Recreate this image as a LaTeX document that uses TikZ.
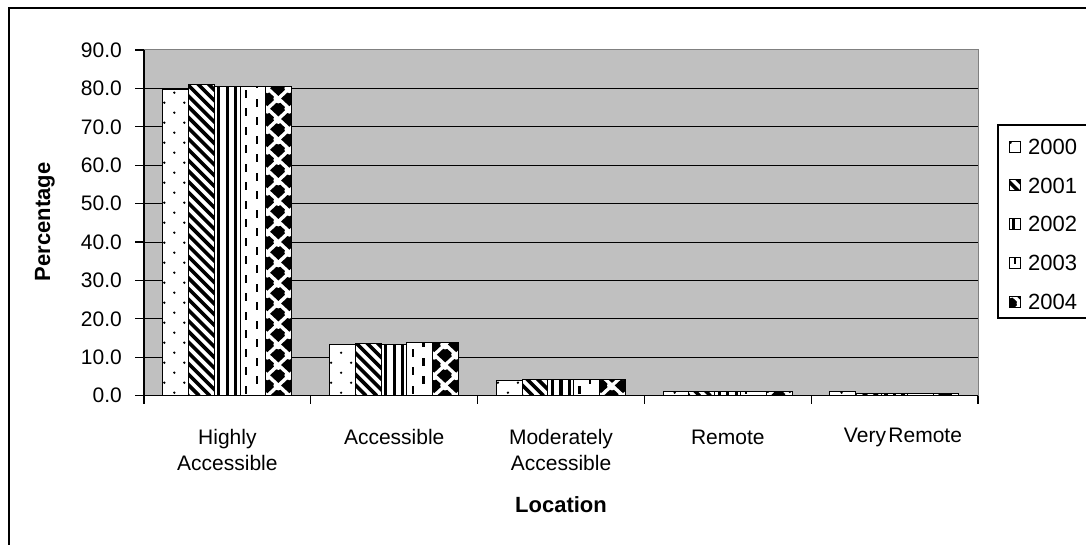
\documentclass[tikz,border=0pt]{standalone}
\usepackage{fontspec}
\setmainfont{Liberation Sans}
\definecolor{plotgrey}{RGB}{192,192,192}
\definecolor{bordergrey}{RGB}{128,128,128}
\tikzset{
  barframe/.style={draw=black, line width=1.1},
  gridline/.style={draw=black, line width=1},
  axisline/.style={draw=black, line width=1.2},
  ticklabel/.style={anchor=east, inner sep=0pt, font=\fontsize{21}{24}\selectfont},
  catlabel/.style={align=center, inner sep=0pt, font=\fontsize{21}{26}\selectfont},
  axistitle/.style={inner sep=0pt, font=\fontsize{22}{24}\selectfont\bfseries},
  legendtext/.style={anchor=west, inner sep=0pt, font=\fontsize{22}{24}\selectfont},
}
% patterns, drawn inside a clip; #1 = left x of the area
\newcommand{\patdots}[1]{%
  \foreach \j in {0,...,36}{%
    \pgfmathsetmacro\yy{395.7-10*\j-3}%
    \ifodd\j
      \fill ({#1+1.6},\yy) circle (1.3);
      \fill ({#1+21.6},\yy) circle (1.3);
    \else
      \fill ({#1+11.6},\yy) circle (1.3);
    \fi}}
\newcommand{\patdiag}[1]{%
  \foreach \s in {0,10.7,...,380}{%
    \draw[line width=3.6] ({#1+\s-400},{395.7-400}) -- ({#1+\s},395.7);}}
\newcommand{\patvert}[1]{%
  \foreach \o in {4.5,13,21.5}{%
    \fill ({#1+\o-1.6},0) rectangle ({#1+\o+1.6},400);}}
\newcommand{\patdash}[1]{%
  \foreach \j in {0,...,22}{%
    \pgfmathsetmacro\yy{395.7-18.5*\j}%
    \fill ({#1+4.6},{\yy-2}) rectangle ({#1+6.8},{\yy-10});
    \fill ({#1+15.4},{\yy-11.25}) rectangle ({#1+17.6},{\yy-19.25});}}
\newcommand{\patdiam}[1]{%
  \foreach \i in {0,1,2}{%
    \foreach \j in {0,...,39}{%
      \pgfmathsetmacro\cx{#1+1.5+11*\i}%
      \pgfmathsetmacro\cy{395.7-10.25*\j}%
      \pgfmathparse{int(mod(\i+\j,2))}%
      \ifnum\pgfmathresult=1
        \fill (\cx-8.3,\cy) -- (\cx,\cy-7.7) -- (\cx+8.3,\cy) -- (\cx,\cy+7.7) -- cycle;
      \else
        \fill[white] (\cx,\cy) circle (5);
      \fi}}}
% one bar: #1 pattern macro, #2 left x, #3 value
\newcommand{\onebar}[3]{%
  \begin{scope}
    \clip (#2,395.7) rectangle ({#2+25.8},{395.7-3.841*#3});
    \fill[white] (#2,395.7) rectangle ({#2+25.8},{395.7-3.841*#3});
    #1{#2}
  \end{scope}
  \draw[barframe] (#2,395.7) rectangle ({#2+25.8},{395.7-3.841*#3});}
\newcommand{\onegroup}[6]{% #1 category index, #2..#6 values
  \pgfmathsetmacro\gl{162.7+166.8*#1}%
  \onebar{\patdots}{\gl}{#2}
  \pgfmathsetmacro\gl{162.7+166.8*#1+25.8}%
  \onebar{\patdiag}{\gl}{#3}
  \pgfmathsetmacro\gl{162.7+166.8*#1+51.6}%
  \onebar{\patvert}{\gl}{#4}
  \pgfmathsetmacro\gl{162.7+166.8*#1+77.4}%
  \onebar{\patdash}{\gl}{#5}
  \pgfmathsetmacro\gl{162.7+166.8*#1+103.2}%
  \onebar{\patdiam}{\gl}{#6}}
\newcommand{\legsym}[2]{% #1 pattern, #2 centre y
  \begin{scope}
    \clip (1009,{#2-5.5}) rectangle (1020,{#2+5.5});
    \fill[white] (1009,{#2-5.5}) rectangle (1020,{#2+5.5});
    #1{1009}
  \end{scope}
  \draw[line width=1] (1009,{#2-5.5}) rectangle (1020,{#2+5.5});}
\begin{document}
\begin{tikzpicture}[x=1pt,y=-1pt]
\clip (0,0) rectangle (1086,545);
\fill[white] (0,0) rectangle (1086,545);
% outer chart frame
\draw[line width=2] (9,8) rectangle (1110,570);
% plot area
\fill[plotgrey] (144,50) rectangle (978,395.7);
\draw[bordergrey, line width=1] (144,50) -- (978,50) -- (978,395.7);
\foreach \v in {10,20,...,80}{%
  \draw[gridline] (144,{395.7-3.841*\v}) -- (978,{395.7-3.841*\v});}
% bars
\onegroup{0}{79.8}{81.0}{80.5}{80.5}{80.5}
\onegroup{1}{13.4}{13.5}{13.4}{13.9}{13.9}
\onegroup{2}{3.9}{4.2}{4.2}{4.2}{4.2}
\onegroup{3}{1.0}{1.0}{1.0}{1.0}{1.0}
\onegroup{4}{1.0}{0.6}{0.6}{0.6}{0.6}
% axes
\draw[axisline] (144,50) -- (144,404);
\draw[axisline] (144,395.7) -- (978,395.7);
\foreach \v/\t in {0/0.0,1/10.0,2/20.0,3/30.0,4/40.0,5/50.0,6/60.0,7/70.0,8/80.0,9/90.0}{%
  \draw[axisline] (135,{395.7-38.41*\v}) -- (144,{395.7-38.41*\v});
  \node[ticklabel] (yl\v) at (122,{395.7-38.41*\v}) {\t};}
\foreach \k in {1,...,5}{%
  \draw[axisline] ({144+166.8*\k},395.7) -- ({144+166.8*\k},404);}
% category labels
\node[catlabel] (c1) at (227.4,450) {Highly\\Accessible};
\node[catlabel] (c2) at (394.2,437) {Accessible};
\node[catlabel] (c3) at (561,450) {Moderately\\Accessible};
\node[catlabel] (c4) at (727.8,437) {Remote};
\node[catlabel] (c5) at (903,437) {Very\hspace{2.5pt}Remote};
% axis titles
\node[axistitle] (xt) at (561,505) {Location};
\node[axistitle, rotate=90] (yt) at (45,222) {Percentage};
% legend
\draw[line width=1.2] (998,125) rectangle (1110,318);
\legsym{\patdots}{146.7}
\legsym{\patdiag}{185.45}
\legsym{\patvert}{224.2}
\legsym{\patdash}{262.95}
\legsym{\patdiam}{301.7}
\node[legendtext] (l0) at (1028,146.7) {2000};
\node[legendtext] (l1) at (1028,185.45) {2001};
\node[legendtext] (l2) at (1028,224.2) {2002};
\node[legendtext] (l3) at (1028,262.95) {2003};
\node[legendtext] (l4) at (1028,301.7) {2004};
\end{tikzpicture}
\end{document}
